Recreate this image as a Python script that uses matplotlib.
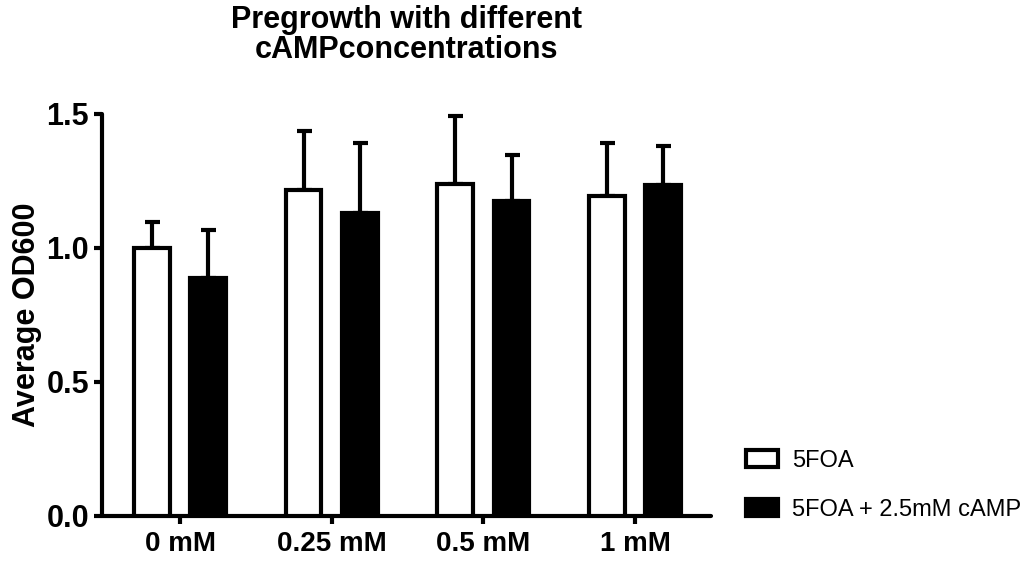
import matplotlib
matplotlib.use("Agg")
import matplotlib.pyplot as plt
import numpy as np

plt.rcParams['font.family'] = ['Liberation Sans', 'DejaVu Sans']

# data
groups = ["0 mM", "0.25 mM", "0.5 mM", "1 mM"]
foa_mean = [1.00, 1.215, 1.238, 1.195]
foa_err = [0.097, 0.223, 0.254, 0.197]
camp_mean = [0.887, 1.130, 1.176, 1.236]
camp_err = [0.180, 0.262, 0.172, 0.146]
series_names = ["5FOA", "5FOA + 2.5mM cAMP"]
yticks = [0.0, 0.5, 1.0, 1.5]


def draw_bars(ax, x, mean, err, face, label):
    ax.bar(x, mean, width=0.235, color=face, edgecolor="black",
           linewidth=3, label=label, zorder=3)
    ax.errorbar(x, mean, yerr=[np.zeros(len(err)), err], fmt="none",
                ecolor="black", elinewidth=3, capsize=5.4, capthick=3,
                zorder=2, clip_on=False)


fig = plt.figure(figsize=(10.29, 5.62), dpi=100)
ax = fig.add_axes([0.0988, 0.0819, 0.5917, 0.7153])

x = np.arange(len(groups))
draw_bars(ax, x - 0.186, foa_mean, foa_err, "white", series_names[0])
draw_bars(ax, x + 0.186, camp_mean, camp_err, "black", series_names[1])

ax.set_xlim(-0.517, 3.498)
ax.set_ylim(0, 1.5)
ax.set_xticks(x)
ax.set_xticklabels(groups, fontsize=20, fontweight="bold")
ax.set_yticks(yticks)
ax.set_yticklabels(["%.1f" % v for v in yticks], fontsize=22,
                   fontweight="bold")
ax.tick_params(axis="both", direction="out", width=3, length=6, pad=3)
ax.tick_params(axis="x", pad=5)

for side in ["top", "right"]:
    ax.spines[side].set_visible(False)
for side in ["left", "bottom"]:
    ax.spines[side].set_linewidth(3)
    ax.spines[side].set_capstyle("round")

ax.set_ylabel("Average OD600", fontsize=22, fontweight="bold", labelpad=3)
ax.set_title("Pregrowth with different\ncAMPconcentrations", fontsize=22,
             fontweight="bold", pad=40, linespacing=1.0)

leg = ax.legend(loc="upper left", bbox_to_anchor=(1.043, 0.188),
                frameon=False, fontsize=17, handlelength=1.35,
                handleheight=0.7, handletextpad=0.6, labelspacing=1.15,
                borderaxespad=0)

fig.savefig("out.png", dpi=100)
